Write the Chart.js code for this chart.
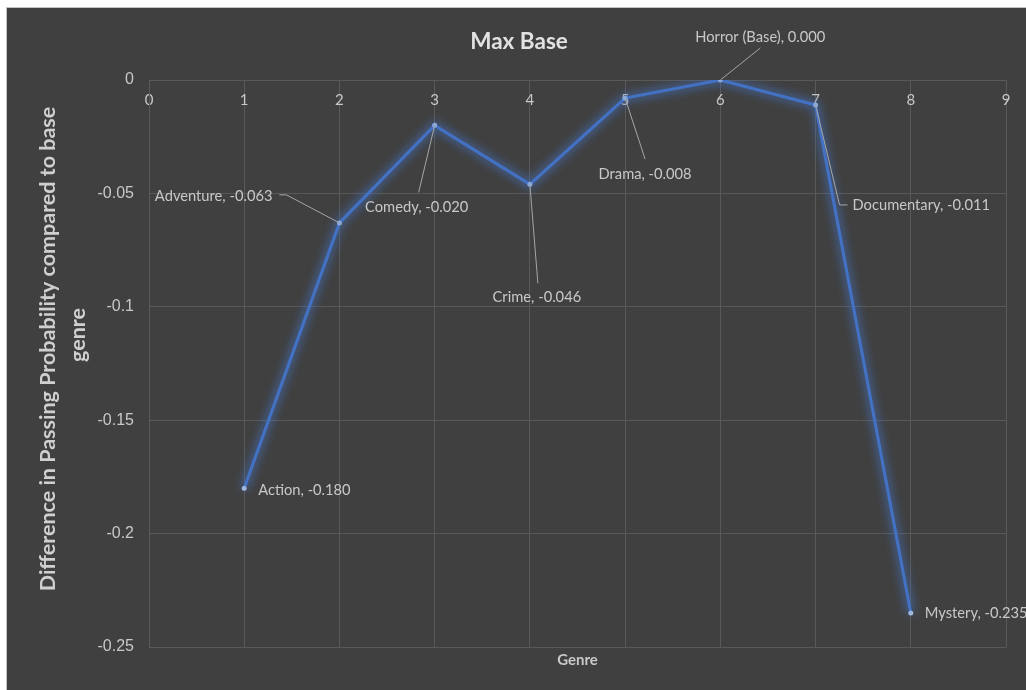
<!DOCTYPE html>
<html lang="en">
<head>
<meta charset="UTF-8">
<title>Max Base</title>
<style>
  html, body { margin: 0; padding: 0; background: #ffffff; overflow: hidden; }
  #frame {
    position: absolute; left: 6px; top: 7px;
    width: 1019px; height: 682px;
    border: 1px solid #c4c4c4; background: #404040;
  }
  #frame canvas { display: block; }
</style>
</head>
<body>
<div id="frame"><canvas id="chart" width="1019" height="682"></canvas></div>

<script src="https://cdn.jsdelivr.net/npm/chart.js"></script>
<script>
// genres on the x axis (position index) and their difference to the base genre
const genres = ['Action', 'Adventure', 'Comedy', 'Crime', 'Drama', 'Horror (Base)', 'Documentary', 'Mystery'];
const genreIndex = [1, 2, 3, 4, 5, 6, 7, 8];
const diffFromBase = [-0.180, -0.063, -0.020, -0.046, -0.008, 0.000, -0.011, -0.235];
const yTitleLines = ['Difference in Passing Probability compared to base', 'genre'];

// where each data label sits relative to its point (px), plus its leader line
const labelPlacement = [
  { dx: 14, dy: 2, align: 'left', leader: null },
  { dx: -67, dy: -27, align: 'right', leader: [[-53, -28], [-60, -28]] },
  { dx: -18, dy: 82, align: 'center', leader: [[-16, 67]] },
  { dx: 7, dy: 113, align: 'center', leader: [[8, 99]] },
  { dx: 20, dy: 76, align: 'center', leader: [[20, 61]] },
  { dx: 40, dy: -43, align: 'center', leader: [[40, -32]] },
  { dx: 37, dy: 100, align: 'left', leader: [[24, 100], [32, 100]] },
  { dx: 14, dy: 0, align: 'left', leader: null }
];

const gridColor = '#595959';
const textColor = '#c8c8c8';
const points = genreIndex.map((g, i) => ({ x: g, y: diffFromBase[i] }));

// blur the wide halo dataset so it reads as a glow behind the line
const glowPlugin = {
  id: 'glow',
  beforeDatasetDraw(chart, args) {
    if (args.index !== 0) return;
    chart.ctx.save();
    chart.ctx.filter = 'blur(4px)';
  },
  afterDatasetDraw(chart, args) {
    if (args.index !== 0) return;
    chart.ctx.restore();
  }
};

// rotated two-line y axis title
const yTitlePlugin = {
  id: 'yTitle',
  afterDraw(chart) {
    const c = chart.ctx;
    c.save();
    c.fillStyle = '#cfcfcf';
    c.font = 'bold 21.5px Lato';
    c.textAlign = 'center';
    c.textBaseline = 'middle';
    const pos = [[41, 341], [71, 327]];
    yTitleLines.forEach((t, i) => {
      c.save();
      c.translate(pos[i][0], pos[i][1]);
      c.rotate(-Math.PI / 2);
      c.fillText(t, 0, 0);
      c.restore();
    });
    c.restore();
  }
};

// "Genre, value" labels with thin leader lines
const dataLabelPlugin = {
  id: 'dataLabels',
  afterDatasetsDraw(chart) {
    const c = chart.ctx;
    const pts = chart.getDatasetMeta(1).data;
    c.save();
    c.font = '14.7px Lato';
    c.textBaseline = 'middle';
    pts.forEach((p, i) => {
      const pl = labelPlacement[i];
      if (pl.leader) {
        c.strokeStyle = '#a6a6a6';
        c.lineWidth = 1;
        c.beginPath();
        c.moveTo(p.x, p.y);
        pl.leader.forEach(([lx, ly]) => c.lineTo(p.x + lx, p.y + ly));
        c.stroke();
      }
      c.fillStyle = textColor;
      c.textAlign = pl.align;
      c.fillText(genres[i] + ', ' + diffFromBase[i].toFixed(3), p.x + pl.dx, p.y + pl.dy);
    });
    c.restore();
  }
};

const ctx = document.getElementById('chart').getContext('2d');
new Chart(ctx, {
  type: 'line',
  data: {
    datasets: [{
      // halo
      data: points,
      xAxisID: 'x',
      yAxisID: 'y',
      borderColor: 'rgba(68, 114, 196, 0.55)',
      borderWidth: 9,
      pointRadius: 0,
      tension: 0
    }, {
      data: points,
      xAxisID: 'x',
      yAxisID: 'y',
      borderColor: '#4472c4',
      borderWidth: 3,
      pointRadius: 2.5,
      pointBackgroundColor: '#b4c7e7',
      pointBorderWidth: 0,
      tension: 0
    }]
  },
  options: {
    responsive: false,
    animation: false,
    layout: { padding: { left: 12.5, right: 7.5, top: 0, bottom: 0 } },
    plugins: {
      legend: { display: false },
      tooltip: { enabled: false },
      title: {
        display: true,
        text: 'Max Base',
        color: '#e2e2e2',
        font: { family: 'Lato', size: 22.5, weight: 'bold' },
        padding: { top: 20, bottom: 25 }
      }
    },
    scales: {
      x: {
        type: 'linear',
        min: 0,
        max: 9,
        position: { y: 0 },
        ticks: { stepSize: 1, color: textColor, font: { family: 'Lato', size: 15 }, padding: 11 },
        grid: { color: gridColor, drawTicks: false },
        border: { color: gridColor }
      },
      xTitle: {
        type: 'linear',
        min: 0,
        max: 9,
        position: 'bottom',
        ticks: { display: false },
        grid: { display: false, drawTicks: false },
        border: { display: false },
        title: {
          display: true,
          text: 'Genre',
          color: textColor,
          font: { family: 'Lato', size: 15, weight: 'bold' },
          padding: { top: 4, bottom: 21 }
        }
      },
      y: {
        min: -0.25,
        max: 0,
        ticks: {
          stepSize: 0.05,
          color: textColor,
          font: { family: 'Liberation Sans', size: 16 },
          padding: 15,
          callback: v => String(Number(v.toFixed(2)))
        },
        grid: { color: gridColor, drawTicks: false },
        border: { color: gridColor },
        afterFit(scale) { scale.width = 129.5; }
      },
      // empty right-hand strip, keeps the plot edge at x = 9
      yRight: {
        position: 'right',
        min: -0.25,
        max: 0,
        ticks: { display: false },
        grid: { display: false, drawTicks: false },
        border: { display: false },
        afterFit(scale) { scale.width = 12.5; }
      }
    }
  },
  plugins: [glowPlugin, dataLabelPlugin, yTitlePlugin]
});
</script>
</body>
</html>
